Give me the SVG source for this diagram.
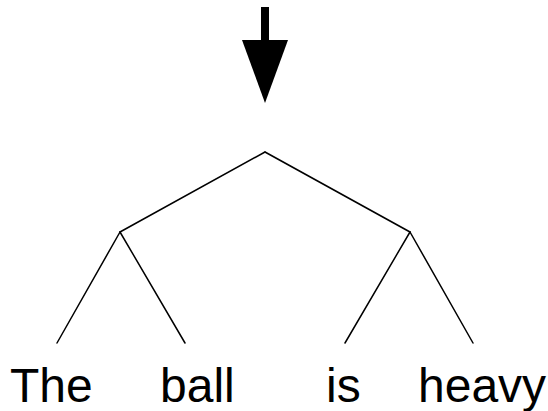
<svg xmlns="http://www.w3.org/2000/svg" width="548" height="411" viewBox="0 0 548 411">
<style>
.edge{stroke:#000;stroke-width:1.5;fill:none;stroke-linecap:round}
.word{font-family:"Liberation Sans",Arial,sans-serif;font-size:48px;fill:#000}
</style>
<rect width="548" height="411" fill="#fff"/>
<g id="arrow">
<rect x="261" y="7" width="8" height="34" fill="#000"/>
<polygon points="242,40 288,40 265,103" fill="#000"/>
</g>
<g id="connectors">
<line class="edge" x1="265" y1="152" x2="120" y2="232"/>
<line class="edge" x1="265" y1="152" x2="410" y2="232"/>
<line class="edge" x1="120" y1="232" x2="57" y2="343"/>
<line class="edge" x1="120" y1="232" x2="185" y2="343"/>
<line class="edge" x1="410" y1="232" x2="345" y2="343"/>
<line class="edge" x1="410" y1="232" x2="473" y2="343"/>
</g>
<g id="leaf-the"><text class="word" x="10" y="402">The</text></g>
<g id="leaf-ball"><text class="word" x="160" y="402">ball</text></g>
<g id="leaf-is"><text class="word" x="326" y="402">is</text></g>
<g id="leaf-heavy"><text class="word" x="418" y="402">heavy</text></g>
</svg>
